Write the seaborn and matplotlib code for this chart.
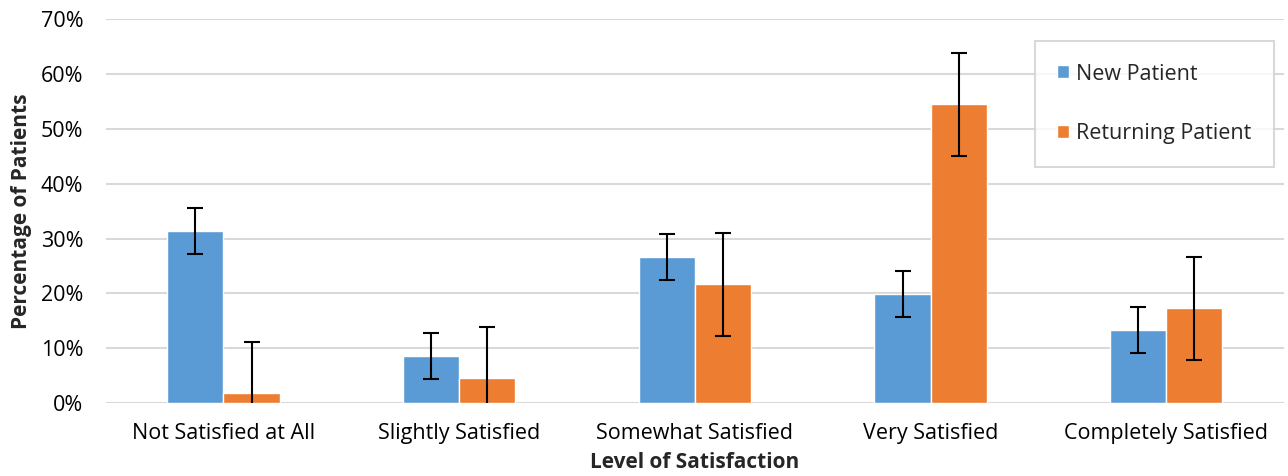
import numpy as np
import pandas as pd
import matplotlib
matplotlib.use("Agg")
import matplotlib.pyplot as plt
import seaborn as sns
from matplotlib.ticker import PercentFormatter

# data (percent)
categories = ["Not Satisfied at All", "Slightly Satisfied", "Somewhat Satisfied",
              "Very Satisfied", "Completely Satisfied"]
new_patient = [31.4, 8.6, 26.6, 19.9, 13.3]
returning_patient = [1.8, 4.5, 21.7, 54.5, 17.3]
new_err = [4.2, 4.2, 4.2, 4.2, 4.2]
returning_err = [9.4, 9.4, 9.4, 9.4, 9.4]
series = ["New Patient", "Returning Patient"]

df = pd.DataFrame({
    "Level": categories * 2,
    "Group": [series[0]] * 5 + [series[1]] * 5,
    "Value": new_patient + returning_patient,
})

sns.set_style("white")
plt.rcParams['font.family'] = ['Open Sans', 'DejaVu Sans']

fig, ax = plt.subplots(figsize=(12.88, 4.76), dpi=100)
sns.barplot(data=df, x="Level", y="Value", hue="Group", order=categories,
            hue_order=series, palette=["#5B9BD5", "#ED7D31"], width=0.476,
            errorbar=None, saturation=1, ax=ax, zorder=2)

# error bars on bar centres
for cont, errs in zip(ax.containers, [new_err, returning_err]):
    xs = [p.get_x() + p.get_width() / 2 for p in cont.patches]
    hs = [p.get_height() for p in cont.patches]
    ax.errorbar(xs, hs, yerr=errs, fmt="none", ecolor="black", elinewidth=1.5,
                capsize=6, capthick=1.5, zorder=3)

ax.set_xlim(-0.5, len(categories) - 0.5)
ax.set_ylim(0, 70)
ax.set_yticks(np.arange(0, 71, 10))
ax.yaxis.set_major_formatter(PercentFormatter(decimals=0))
ax.grid(axis="y", color="#D9D9D9", linewidth=1.5, zorder=0)
ax.set_axisbelow(True)
for s in ax.spines.values():
    s.set_visible(False)
ax.tick_params(axis="both", length=0, labelsize=15.5, colors="#000000")
ax.tick_params(axis="y", pad=16)
ax.tick_params(axis="x", pad=14)
ax.set_xlabel("Level of Satisfaction", fontsize=15, fontweight="bold", labelpad=6)
ax.set_ylabel("Percentage of Patients", fontsize=15, fontweight="bold", labelpad=6)

leg = ax.legend(loc="upper right", bbox_to_anchor=(0.991, 0.943), borderaxespad=0,
                fontsize=15.5, frameon=True, fancybox=False, edgecolor="#D0D0D0",
                handlelength=0.55, handleheight=0.55, handletextpad=0.3,
                labelspacing=1.8, borderpad=1.05)
leg.get_frame().set_linewidth(1.5)

plt.subplots_adjust(left=0.082, right=0.997, top=0.96, bottom=0.153)
plt.savefig("out.png", dpi=100)
